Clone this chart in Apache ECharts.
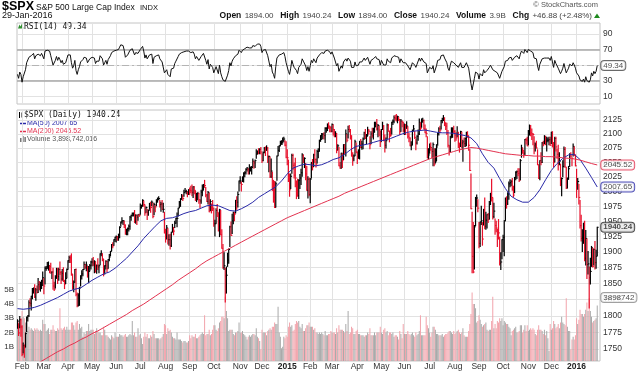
<!DOCTYPE html>
<html><head><meta charset="utf-8">
<script src="https://cdn.jsdelivr.net/npm/echarts@6/dist/echarts.min.js"></script>
<style>html,body{margin:0;padding:0;background:#fff}#c{width:640px;height:372px}</style>
</head><body><div id="c"></div>
<script>
// ---- tick / label data ----
const monthTickIdx = [4,23,44,65,86,107,129,150,171,194,213,235,255,274,296,317,337,359,381,402,423,445,465,487];
const monthTickLabels = ['Feb','Mar','Apr','May','Jun','Jul','Aug','Sep','Oct','Nov','Dec','2015','Feb','Mar','Apr','May','Jun','Jul','Aug','Sep','Oct','Nov','Dec','2016'];
const priceTicks = [1750,1775,1800,1825,1850,1875,1900,1925,1950,1975,2000,2025,2050,2075,2100,2125];
const rsiTicks = [10,30,70,90];
const volumeTicks = [1,2,3,4,5];

// ---- daily closes, 28-Jan-2014 .. 29-Jan-2016 ----
const closes = [
1792,1774,1794,1783,
1742,1755,1752,1773,1797,1800,1820,1819,1830,1839,1841,1829,1840,1836,1848,1845,1845,1854,1859,
1846,1874,1874,1877,1878,1877,1868,1868,1846,1841,1859,1872,1861,1872,1867,1857,1866,1853,1849,1858,1872,
1886,1891,1889,1865,1845,1852,1872,1833,1816,1831,1843,1862,1865,1872,1880,1875,1879,1863,1869,1878,1884,
1884,1881,1885,1868,1878,1876,1878,1897,1897,1889,1871,1878,1885,1873,1888,1892,1901,1912,1910,1920,1924,
1925,1924,1928,1940,1949,1951,1951,1944,1930,1936,1938,1942,1957,1960,1963,1963,1950,1960,1957,1961,1960,
1973,1975,1985,1978,1964,1973,1965,1968,1977,1973,1982,1958,1978,1974,1984,1987,1988,1978,1979,1970,1970,1931,
1925,1939,1920,1920,1910,1932,1937,1934,1947,1955,1955,1972,1982,1987,1992,1988,1998,2000,2000,1997,2003,
2002,2001,1998,2008,2002,1988,1996,1997,1986,1984,1999,2002,2011,2010,1994,1983,1998,1966,1983,1978,1972,
1946,1946,1968,1965,1935,1969,1928,1906,1875,1878,1862,1863,1887,1904,1941,1927,1951,1965,1962,1985,1982,1995,2018,
2018,2012,2024,2031,2032,2038,2040,2038,2039,2040,2041,2052,2049,2053,2064,2069,2067,2073,2068,
2053,2067,2074,2072,2075,2060,2060,2026,2035,2002,1990,1973,2013,2061,2071,2079,2082,2082,2089,2091,2080,2059,
2058,2021,2003,2026,2062,2045,2028,2023,2011,1993,2019,2023,2032,2063,2052,2057,2030,2002,2021,1995,
2021,2050,2042,2063,2055,2047,2069,2069,2088,2097,2100,2100,2097,2110,2110,2115,2114,2111,2105,
2117,2108,2099,2101,2071,2079,2044,2040,2066,2053,2081,2074,2100,2089,2108,2104,2092,2061,2056,2061,2086,2068,
2060,2067,2081,2076,2082,2091,2102,2092,2096,2107,2105,2081,2100,2097,2108,2113,2118,2109,2115,2107,2086,
2108,2114,2089,2080,2088,2116,2105,2099,2098,2121,2123,2129,2128,2126,2131,2126,2104,2123,2121,2107,
2112,2110,2114,2096,2093,2079,2080,2105,2109,2094,2084,2096,2100,2121,2110,2123,2124,2109,2102,2101,2058,2063,
2077,2076,2069,2081,2047,2051,2077,2100,2109,2107,2124,2127,2128,2119,2114,2102,2080,2068,2093,2109,2109,2104,
2098,2093,2100,2084,2078,2104,2084,2086,2083,2092,2102,2097,2080,2036,1971,1893,1868,1941,1988,1989,1972,
1914,1949,1951,1921,1969,1942,1952,1961,1953,1978,1995,1990,1958,1967,1943,1939,1932,1931,1882,1884,1920,
1924,1951,1987,1980,1996,2013,2015,2017,2004,1994,2024,2033,2034,2031,2019,2053,2075,2071,2066,2090,2089,2079,
2104,2110,2102,2100,2099,2079,2082,2075,2046,2023,2053,2050,2084,2081,2089,2087,2089,2089,2090,2080,
2103,2080,2050,2092,2077,2064,2048,2052,2012,2022,2043,2073,2042,2006,2021,2039,2064,2061,2057,2078,2063,2044,
2013,2017,1990,1943,1922,1924,1939,1890,1922,1880,1881,1859,1869,1907,1877,1904,1883,1893,1940.24];

// ---- daily high minus close ----
const highAbove = [
2,14,5,12,
43,4,4,1,1,0,3,7,0,3,2,19,2,10,10,8,7,1,9,
12,2,3,6,6,1,14,0,28,11,3,2,13,2,17,12,6,22,6,9,1,
0,2,5,32,19,2,0,40,19,3,1,0,5,0,4,5,5,14,8,2,1,
5,10,1,16,1,13,1,0,5,8,17,0,1,12,0,4,0,0,5,0,0,
1,1,1,1,0,5,0,6,14,1,1,2,1,0,1,1,18,1,3,0,2,
6,2,1,6,13,1,5,1,3,9,2,22,2,2,2,2,3,7,3,15,10,34,
12,4,18,8,19,0,8,6,3,0,9,0,1,1,3,6,4,5,2,2,0,
4,8,13,0,6,13,1,1,11,2,3,9,1,9,13,12,2,31,3,1,13,
26,6,3,13,29,1,40,30,37,21,12,13,11,1,1,22,11,0,3,0,9,4,0,
7,4,1,1,2,1,1,1,7,2,2,4,3,1,8,1,7,1,8,
12,1,2,5,4,16,1,33,21,31,29,44,3,0,7,0,5,6,4,3,8,27,
14,33,27,4,2,19,21,34,7,28,1,6,6,2,11,1,18,41,4,28,
1,0,13,1,17,9,2,5,1,0,1,0,5,1,1,3,6,3,8,
1,8,9,3,30,2,32,10,0,12,0,7,7,10,6,11,16,36,11,2,3,16,
8,5,6,14,5,2,1,16,3,5,3,14,4,13,2,8,3,17,2,7,19,
0,7,26,18,5,2,12,6,12,0,2,3,5,9,1,4,22,3,2,14,
6,7,8,17,8,14,6,2,6,11,7,1,7,6,10,4,4,16,14,8,37,11,
5,8,5,3,27,23,4,1,2,7,0,1,5,10,6,17,26,11,3,2,2,10,
8,9,13,19,5,1,19,3,10,1,1,7,16,37,59,72,80,2,2,5,14,
34,0,24,27,1,47,13,0,10,5,2,31,31,13,11,11,5,22,42,15,0,
3,0,2,11,2,3,5,2,18,15,0,1,1,8,20,2,5,4,4,0,3,15,
2,6,13,9,2,16,2,12,26,22,0,17,1,6,8,9,5,4,4,14,
0,24,35,2,17,9,32,15,35,1,10,4,34,35,2,4,1,6,1,4,14,19,
25,5,22,42,38,12,8,60,13,41,20,17,21,2,29,1,34,10,0];

// ---- daily close minus low ----
const lowBelow = [
11,4,12,14,
2,11,14,20,21,8,21,4,21,13,6,1,16,1,12,5,7,12,12,
12,25,3,3,7,10,2,10,5,2,16,14,11,17,3,7,11,0,7,8,13,
13,8,6,2,4,15,20,2,2,16,27,16,8,10,7,1,9,3,18,8,11,
6,3,18,0,12,4,11,17,3,3,9,13,12,5,14,6,7,10,3,9,7,
9,5,9,17,7,4,6,4,1,8,10,8,20,8,4,4,2,13,12,9,2,
11,3,9,3,4,8,12,8,7,8,6,2,17,8,8,5,2,4,12,0,5,0,
9,18,7,9,5,23,4,6,7,8,14,13,9,12,5,3,6,1,4,6,8,
7,3,5,18,6,3,13,11,6,11,19,9,8,3,3,0,19,0,15,14,4,
4,20,21,7,1,44,0,0,1,6,41,28,10,22,32,0,21,19,11,21,12,21,17,
4,11,7,15,7,8,5,8,9,5,11,10,9,12,7,4,2,8,3,
3,14,7,10,4,10,26,2,11,0,8,0,39,42,9,10,3,0,5,5,1,1,
12,4,11,21,31,7,5,15,23,1,31,18,20,37,2,16,10,0,32,2,
40,27,5,20,5,5,20,11,18,10,10,8,6,25,7,9,4,7,1,
13,10,4,6,4,7,0,0,26,12,26,9,39,3,15,0,1,0,11,8,24,1,
12,10,25,0,9,17,11,0,13,10,5,7,17,3,17,10,5,2,20,10,8,
21,6,1,12,13,24,0,13,2,21,6,9,3,3,11,2,5,18,8,3,
13,11,4,3,7,0,8,24,3,2,12,14,11,22,2,11,3,0,0,6,0,7,
11,5,11,37,3,2,24,20,11,5,15,7,4,4,6,3,3,5,24,15,15,2,
11,4,5,8,10,26,9,34,5,14,23,3,9,0,0,26,1,68,45,14,6,
7,40,6,10,25,4,15,22,5,24,17,6,4,11,14,6,23,10,3,12,31,
23,57,36,8,18,26,7,7,2,3,26,13,12,4,2,33,16,5,7,27,7,0,
23,12,5,10,18,14,12,0,0,1,33,4,34,2,6,6,19,3,9,0,
20,3,8,41,7,7,11,6,2,29,18,31,0,1,15,18,21,2,13,17,1,0,
23,13,11,4,4,23,25,4,43,22,16,47,20,30,1,25,10,19,46];

// ---- daily volume, billions ----
const volumes = [
2.6,2.8,2.5,2.9,
3.5,3.1,3.0,2.7,2.7,2.1,2.4,2.2,2.3,2.2,2.1,2.3,2.2,2.3,2.2,2.1,2.2,2.1,2.9,
2.6,2.6,2.1,2.2,2.3,1.9,2.2,2.2,2.5,2.2,2.1,2.1,2.3,2.2,3.7,2.3,2.2,2.3,2.4,2.2,2.4,
2.2,2.2,2.2,2.7,2.7,2.5,2.2,2.7,2.8,2.2,2.6,2.3,2.4,1.7,2.0,1.9,2.1,2.1,2.6,2.1,2.2,
2.2,2.2,1.9,2.1,2.3,2.1,2.0,2.0,1.8,1.8,2.4,2.2,1.8,1.8,1.7,1.6,1.5,1.8,1.7,1.6,2.0,
1.7,1.7,1.7,1.9,1.8,1.8,1.7,1.8,1.9,1.7,1.7,1.8,1.9,1.8,2.8,1.8,2.0,1.7,1.7,2.3,1.8,
1.9,1.6,1.2,1.7,2.0,1.7,1.9,1.6,1.6,1.8,1.7,2.1,1.9,1.6,1.6,1.6,1.6,1.5,1.6,1.7,1.9,2.6,
2.5,1.9,2.3,2.1,2.2,2.0,1.7,1.6,1.6,1.5,2.0,1.5,1.5,1.5,1.4,1.3,1.4,1.4,1.3,1.3,1.4,
1.8,1.6,1.8,1.7,1.7,1.9,1.6,1.6,1.7,1.8,1.9,2.0,1.9,3.2,1.8,1.9,1.9,2.2,1.8,1.9,2.2,
2.5,2.5,2.2,2.1,2.3,2.7,2.8,3.1,3.1,3.0,4.5,3.5,3.0,2.1,2.2,2.2,2.2,1.9,1.8,2.0,2.0,2.1,2.7,
2.0,2.0,2.1,1.9,1.8,1.7,1.5,1.7,1.8,1.7,1.8,1.9,1.9,1.8,2.3,1.7,1.6,1.4,0.8,
2.2,2.0,2.0,2.0,1.8,2.1,2.2,2.3,2.2,2.4,2.4,2.7,2.6,2.6,3.8,2.0,1.7,0.9,1.0,1.7,1.6,1.8,
1.7,2.4,2.7,2.4,2.5,2.1,2.2,2.6,2.8,2.7,2.8,2.4,2.3,2.6,2.1,2.1,2.3,2.5,2.5,2.7,
2.4,2.4,2.4,2.2,2.3,2.0,2.0,1.9,2.0,1.9,2.0,1.9,1.8,2.1,1.8,1.8,1.9,1.9,2.1,
2.0,2.0,2.0,1.9,2.3,2.0,2.5,2.2,2.2,2.2,2.1,2.0,2.6,2.1,3.5,1.9,2.0,2.4,2.3,1.9,1.9,2.1,
2.2,1.9,1.9,1.8,1.8,1.8,1.7,1.8,1.8,2.0,1.9,2.3,1.8,1.8,1.8,2.0,1.8,2.0,2.0,2.0,2.4,
2.0,1.9,2.2,2.3,2.0,2.1,1.8,2.0,2.0,1.9,2.0,1.7,1.8,1.8,1.7,1.5,2.1,1.9,1.6,2.6,
1.9,1.9,1.9,2.1,1.9,1.8,1.9,2.0,1.8,1.7,2.0,1.8,1.9,2.1,3.2,1.8,1.8,1.8,1.8,3.1,2.5,2.3,
2.0,1.7,2.0,2.4,2.4,2.2,1.9,1.9,1.8,1.8,1.8,1.9,1.7,1.8,1.9,1.9,2.0,2.1,2.1,2.0,1.9,2.1,
1.9,2.0,2.1,2.2,2.0,1.9,2.0,2.3,1.8,1.7,1.7,1.7,2.1,2.6,3.3,4.8,4.0,4.0,3.7,2.7,2.8,
3.2,2.9,2.6,2.4,2.5,2.6,2.7,2.2,2.1,2.2,2.2,2.8,4.5,2.3,2.6,2.3,2.8,2.7,3.0,2.8,3.0,
2.5,2.8,2.7,2.6,2.6,2.4,2.3,1.8,2.1,2.2,2.3,2.4,2.0,2.0,2.1,2.5,2.5,2.0,2.2,2.5,2.1,2.5,
2.1,2.2,2.3,2.2,2.3,2.2,1.9,1.8,2.2,2.5,2.2,2.2,2.1,1.9,2.2,1.8,2.1,1.6,0.7,2.6,
2.2,2.3,2.8,2.6,2.3,2.4,2.6,2.3,2.7,3.1,2.7,2.6,2.5,4.4,2.4,2.1,2.1,0.8,1.5,1.7,1.5,1.8,
3.0,2.6,2.9,3.6,3.3,3.3,3.1,3.3,3.6,4.1,3.5,4.4,3.5,3.1,2.7,2.8,2.9,3.0,3.9];

// ---- RSI(14), daily ----
const rsi14 = [
38,33,41,38,
28,35,34,44,53,54,60,59,62,64,65,58,62,60,64,62,62,65,66,
58,68,68,69,69,68,62,62,50,48,56,61,56,60,57,53,56,51,49,53,58,
63,64,63,53,46,49,56,43,38,44,48,54,55,57,60,58,59,53,55,58,60,
60,58,59,52,55,54,55,62,62,58,50,53,56,51,57,59,62,66,65,68,69,
69,68,70,73,76,76,75,69,60,62,63,64,69,70,71,71,63,66,64,65,65,
70,71,74,68,59,63,58,60,63,61,64,52,60,58,62,63,63,58,58,54,54,40,
38,44,38,38,35,45,47,46,52,55,55,61,64,65,66,64,67,68,68,66,68,
67,66,64,67,64,58,61,61,56,55,61,62,65,64,56,51,57,45,51,49,47,
40,40,48,47,39,50,40,35,31,31,29,30,37,43,53,49,55,58,57,62,61,64,69,
69,66,69,71,71,72,73,71,72,72,72,75,73,74,76,77,76,77,74,
66,69,71,70,71,62,62,48,51,41,38,33,48,59,61,63,64,64,66,66,61,53,
53,42,38,46,56,51,47,46,43,39,47,48,51,58,55,56,49,43,48,42,
49,56,53,58,56,53,59,59,63,65,66,66,65,68,67,69,68,67,64,
67,63,59,60,49,52,42,41,49,46,54,52,58,55,59,58,55,47,46,47,54,49,
48,50,54,52,54,56,59,56,57,60,59,51,56,55,58,60,61,58,59,57,50,
56,58,50,48,50,58,55,53,53,59,60,62,61,61,62,60,53,58,57,53,
54,53,55,49,48,44,45,53,54,50,47,51,53,59,55,59,59,54,52,52,40,42,
47,47,45,49,40,42,49,56,58,57,62,63,63,59,57,53,46,43,50,55,55,53,
51,50,52,47,46,53,47,48,47,50,53,51,46,36,26,18,16,33,41,41,39,
32,39,40,36,44,40,42,43,42,47,50,49,44,46,42,41,40,40,33,34,42,
43,48,55,54,56,59,60,60,56,54,60,62,62,61,58,64,68,67,65,70,70,66,
70,71,68,67,66,59,60,58,49,43,51,50,58,57,59,58,59,59,59,56,
61,54,47,56,52,50,46,47,39,42,46,52,46,40,43,46,51,50,49,53,50,46,
40,41,36,31,29,29,32,28,35,30,31,28,31,40,36,42,39,42,49.34];

// ---- moving averages, one value every 5 trading days ----
const maStep = 5;
const ma50 = [1811,1810,1811,1813,1816,1820,1824,1828,1833,1838,1841,1843,1849,1855,1860,1865,1868,1874,1882,1890,
1900,1910,1922,1932,1942,1951,1955,1956,1959,1963,1966,1968,1972,1976,1977,1976,1972,1968,1967,1971,
1976,1982,1990,1996,2002,2008,2018,2030,2040,2044,2047,2046,2044,2046,2050,2055,2058,2064,2072,2078,
2080,2082,2085,2088,2089,2092,2096,2100,2103,2105,2106,2107,2105,2103,2102,2102,2101,2099,2097,2093,
2083,2065,2050,2040,2022,2005,1992,1986,1982,1982,1990,2003,2020,2036,2048,2057,2063,2064,2055,2040,
2024,2007.65];
const ma200 = [1712,1717,1722,1727,1731,1736,1741,1746,1750,1755,1759,1764,1768,1773,1777,1782,1787,1792,1797,1802,
1808,1813,1818,1824,1830,1836,1842,1848,1855,1861,1867,1873,1880,1886,1891,1896,1901,1906,1911,1916,
1921,1926,1931,1936,1941,1946,1951,1956,1960,1964,1968,1972,1976,1980,1984,1988,1992,1997,2001,2005,
2009,2013,2017,2021,2025,2029,2033,2037,2041,2045,2049,2053,2057,2060,2063,2066,2069,2072,2074,2076,
2075,2073,2071,2069,2067,2065,2064,2063,2062,2062,2061,2061,2060,2060,2059,2058,2057,2056,2054,2051,
2048,2045.52];

const lastVolumeText = '3898742';

// ---------------------------------------------------------------
const FONT = 'Liberation Sans, Arial, sans-serif';
const MONO = 'DejaVu Sans Mono, monospace';
const UP = '#000000', DOWN = '#e8102a';
const BLUE = '#2929a8', RED = '#e2324f';
const n = closes.length;
const isUp = closes.map((c, i) => i === 0 ? true : c >= closes[i - 1]);
const barData = closes.map((c, i) => [i, c + highAbove[i], c - lowBelow[i], c, isUp[i] ? 1 : 0]);
const volData = volumes.map((v, i) => ({ value: [i, v], itemStyle: { color: isUp[i] ? '#a9a9a9' : '#f2a3ab' } }));
const rsiData = rsi14.map((v, i) => [i, v]);
const ma50Data = ma50.map((v, k) => [k * maStep, v]);
const ma200Data = ma200.map((v, k) => [k * maStep, v]);
const last = n - 1;

const gridCol = '#e2e2e2';
const xCommon = (gi, showLabels) => ({
  type: 'value', gridIndex: gi, min: -0.4, max: 507.4,
  axisLine: { show: false },
  axisTick: { show: false, customValues: monthTickIdx },
  splitLine: { show: true, lineStyle: { color: gridCol, width: 1 } },
  axisLabel: {
    show: showLabels, customValues: monthTickIdx, margin: 1,
    fontFamily: FONT, fontSize: 8.5, color: '#333', lineHeight: 10,
    formatter: v => { const k = monthTickIdx.indexOf(Math.round(v)); const t = k >= 0 ? monthTickLabels[k] : ''; return /^20/.test(t) ? '{y|' + t + '}' : t; },
    rich: { y: { fontWeight: 'bold', fontSize: 8.5, fontFamily: FONT, color: '#222' } }
  }
});

const tag = (border, bg, bold) => ({
  show: true, position: 'right', distance: 4, fontFamily: FONT, fontSize: 8, color: '#222',
  fontWeight: bold ? 'bold' : 'normal',
  backgroundColor: bg, borderColor: border, borderWidth: 1, borderRadius: 3, padding: [1, 2, 0, 2]
});

const g = [];
// header
g.push({ type: 'text', x: 2, y: 7, style: { text: '$SPX', font: 'bold 12.5px ' + FONT, fill: '#000', textVerticalAlign: 'middle', verticalAlign: 'middle' } });
g.push({ type: 'text', x: 36, y: 7.5, style: { text: 'S&P 500 Large Cap Index', font: '8.5px ' + FONT, fill: '#111', textVerticalAlign: 'middle', verticalAlign: 'middle' } });
g.push({ type: 'text', x: 140, y: 7.5, style: { text: 'INDX', font: '7.5px ' + FONT, fill: '#111', textVerticalAlign: 'middle', verticalAlign: 'middle' } });
g.push({ type: 'text', x: 2, y: 16, style: { text: '29-Jan-2016', font: '9px ' + FONT, fill: '#111', textVerticalAlign: 'middle', verticalAlign: 'middle' } });
g.push({ type: 'text', x: 598, y: 5, style: { text: '\u00a9 StockCharts.com', font: '7.5px ' + FONT, fill: '#555', textAlign: 'right', align: 'right', textVerticalAlign: 'middle', verticalAlign: 'middle' } });
g.push({ type: 'text', x: 592, y: 16, style: {
  text: '{b|Open} {v|1894.00}  {b|High} {v|1940.24}  {b|Low} {v|1894.00}  {b|Close} {v|1940.24}  {b|Volume} {v|3.9B}  {b|Chg} {v|+46.88 (+2.48%)}',
  textAlign: 'right', align: 'right', textVerticalAlign: 'middle', verticalAlign: 'middle',
  rich: { b: { font: 'bold 8.5px ' + FONT, fill: '#111' }, v: { font: '8px ' + FONT, fill: '#444' } } } });
g.push({ type: 'polygon', shape: { points: [[594, 18], [597, 13.5], [600, 18]] }, style: { fill: '#1f8a1f' } });
// RSI legend
g.push({ type: 'polygon', shape: { points: [[18, 28.5], [19.5, 24.5], [20.5, 26.5], [22, 23.5], [23.5, 28.5]] }, style: { fill: '#2f8f2f' } });
g.push({ type: 'text', x: 24, y: 26.5, style: { text: 'RSI(14) 49.34', font: '8px ' + MONO, fill: '#111', textVerticalAlign: 'middle', verticalAlign: 'middle' } });
// main legend
g.push({ type: 'line', shape: { x1: 19.5, y1: 112, x2: 19.5, y2: 118 }, style: { stroke: '#000', lineWidth: 1 } });
g.push({ type: 'line', shape: { x1: 22, y1: 112.5, x2: 22, y2: 117.5 }, style: { stroke: '#000', lineWidth: 1 } });
g.push({ type: 'text', x: 24, y: 115, style: { text: '$SPX (Daily) 1940.24', font: '8px ' + MONO, fill: '#111', textVerticalAlign: 'middle', verticalAlign: 'middle' } });
g.push({ type: 'line', shape: { x1: 20, y1: 123.5, x2: 26, y2: 123.5 }, style: { stroke: BLUE, lineWidth: 1.5 } });
g.push({ type: 'text', x: 27, y: 123.5, style: { text: 'MA(50) 2007.65', font: '7px ' + FONT, fill: BLUE, textVerticalAlign: 'middle', verticalAlign: 'middle' } });
g.push({ type: 'line', shape: { x1: 20, y1: 131.5, x2: 26, y2: 131.5 }, style: { stroke: RED, lineWidth: 1.5 } });
g.push({ type: 'text', x: 27, y: 131.5, style: { text: 'MA(200) 2045.52', font: '7px ' + FONT, fill: RED, textVerticalAlign: 'middle', verticalAlign: 'middle' } });
g.push({ type: 'rect', shape: { x: 20, y: 138, width: 1.5, height: 4 }, style: { fill: '#777' } });
g.push({ type: 'rect', shape: { x: 22.2, y: 136, width: 1.5, height: 6 }, style: { fill: '#777' } });
g.push({ type: 'rect', shape: { x: 24.4, y: 137, width: 1.5, height: 5 }, style: { fill: '#777' } });
g.push({ type: 'text', x: 27, y: 139.5, style: { text: 'Volume 3,898,742,016', font: '7px ' + FONT, fill: '#555', textVerticalAlign: 'middle', verticalAlign: 'middle' } });

const lens = [closes.length, highAbove.length, lowBelow.length, volumes.length, rsi14.length, ma50.length, ma200.length];
if (lens.some(l => l !== lens[0] && l !== 102)) {
  g.push({ type: 'text', x: 200, y: 60, style: { text: 'LEN ' + lens.join(','), font: 'bold 14px sans-serif', fill: 'red' } });
}

const option = {
  animation: false,
  backgroundColor: '#fff',
  graphic: g,
  grid: [
    { left: 17, right: 40, top: 23, height: 81, show: true, borderColor: '#c4c4c4', borderWidth: 1, backgroundColor: 'transparent' },
    { left: 17, right: 40, top: 110, height: 251, show: true, borderColor: '#c4c4c4', borderWidth: 1, backgroundColor: 'transparent' }
  ],
  xAxis: [xCommon(0, false), xCommon(1, true)],
  yAxis: [
    { gridIndex: 0, type: 'value', min: 0, max: 104, position: 'right',
      axisLine: { show: false }, axisTick: { show: false, customValues: [10, 30, 50, 70, 90] },
      axisLabel: { customValues: rsiTicks, fontFamily: FONT, fontSize: 8.5, color: '#333', margin: 3 },
      splitLine: { show: true, lineStyle: { color: gridCol } } },
    { gridIndex: 1, type: 'log', logBase: 10, min: 1732.3, max: 2143.1, position: 'right',
      axisLine: { show: false }, axisTick: { show: false, customValues: priceTicks },
      axisLabel: { customValues: priceTicks, formatter: v => String(Math.round(v)), fontFamily: FONT, fontSize: 8.5, color: '#333', margin: 3 },
      splitLine: { show: true, lineStyle: { color: gridCol } } },
    { gridIndex: 1, type: 'value', min: 0, max: 17.6, position: 'left',
      axisLine: { show: false }, axisTick: { show: false, customValues: volumeTicks },
      axisLabel: { customValues: volumeTicks, formatter: v => v + 'B', fontFamily: FONT, fontSize: 8, color: '#333', margin: 3 },
      splitLine: { show: false } }
  ],
  series: [
    { type: 'line', name: 'RSI', xAxisIndex: 0, yAxisIndex: 0, data: rsiData, symbol: 'none', z: 5,
      lineStyle: { color: '#111', width: 1 },
      markLine: { silent: true, symbol: 'none', label: { show: false }, animation: false,
        data: [
          { yAxis: 70, lineStyle: { color: '#a8a8a8', width: 1.5, type: 'solid' } },
          { yAxis: 30, lineStyle: { color: '#a8a8a8', width: 1.5, type: 'solid' } },
          { yAxis: 50, lineStyle: { color: '#b4b4b4', width: 1.2, type: [7, 3, 2, 3] } }
        ] } },
    { type: 'scatter', xAxisIndex: 0, yAxisIndex: 0, data: [[last, rsi14[last]]], symbolSize: 0, silent: true, z: 10,
      label: Object.assign(tag('#444', '#fff', false), { formatter: p => p.value[1].toFixed(2) }) },
    { type: 'bar', name: 'Volume', xAxisIndex: 1, yAxisIndex: 2, data: volData, barWidth: 1, z: 1, silent: true },
    { type: 'custom', name: 'Price', xAxisIndex: 1, yAxisIndex: 1, data: barData, clip: true, z: 3, silent: true,
      progressive: 0,
      dimensions: ['x', 'high', 'low', 'close', 'up'],
      encode: { x: 0, y: [1, 2, 3] },
      renderItem: (params, api) => {
        const i = api.value(0);
        const h = api.coord([i, api.value(1)]);
        const l = api.coord([i, api.value(2)]);
        const c = api.coord([i, api.value(3)]);
        const col = api.value(4) ? UP : DOWN;
        return { type: 'group', children: [
          { type: 'line', shape: { x1: h[0], y1: h[1] - 0.5, x2: l[0], y2: l[1] + 0.5 }, style: { stroke: col, lineWidth: 1.2 } },
          { type: 'line', shape: { x1: c[0], y1: c[1], x2: c[0] + 1.4, y2: c[1] }, style: { stroke: col, lineWidth: 1 } }
        ] };
      } },
    { type: 'line', name: 'MA50', xAxisIndex: 1, yAxisIndex: 1, data: ma50Data, symbol: 'none', z: 4, clip: true,
      lineStyle: { color: BLUE, width: 1 } },
    { type: 'line', name: 'MA200', xAxisIndex: 1, yAxisIndex: 1, data: ma200Data, symbol: 'none', z: 4, clip: true,
      lineStyle: { color: RED, width: 1 } },
    { type: 'scatter', xAxisIndex: 1, yAxisIndex: 1, symbolSize: 0, silent: true, z: 10,
      data: [
        { value: [last, ma200[ma200.length - 1]], label: tag(RED, '#fff', false) },
        { value: [last, ma50[ma50.length - 1]], label: tag(BLUE, '#fff', false) },
        { value: [last, closes[last]], label: tag('#222', '#e8e8e8', true) }
      ],
      label: { show: true, formatter: p => p.value[1].toFixed(2) } },
    { type: 'scatter', xAxisIndex: 1, yAxisIndex: 2, symbolSize: 0, silent: true, z: 10,
      data: [[last, volumes[last]]],
      label: Object.assign(tag('#888', '#fff', false), { formatter: () => lastVolumeText, offset: [0, -8] }) }
  ]
};

const chart = echarts.init(document.getElementById('c'), null, { renderer: 'canvas', width: 640, height: 372 });
chart.setOption(option);
</script>
</body></html>
